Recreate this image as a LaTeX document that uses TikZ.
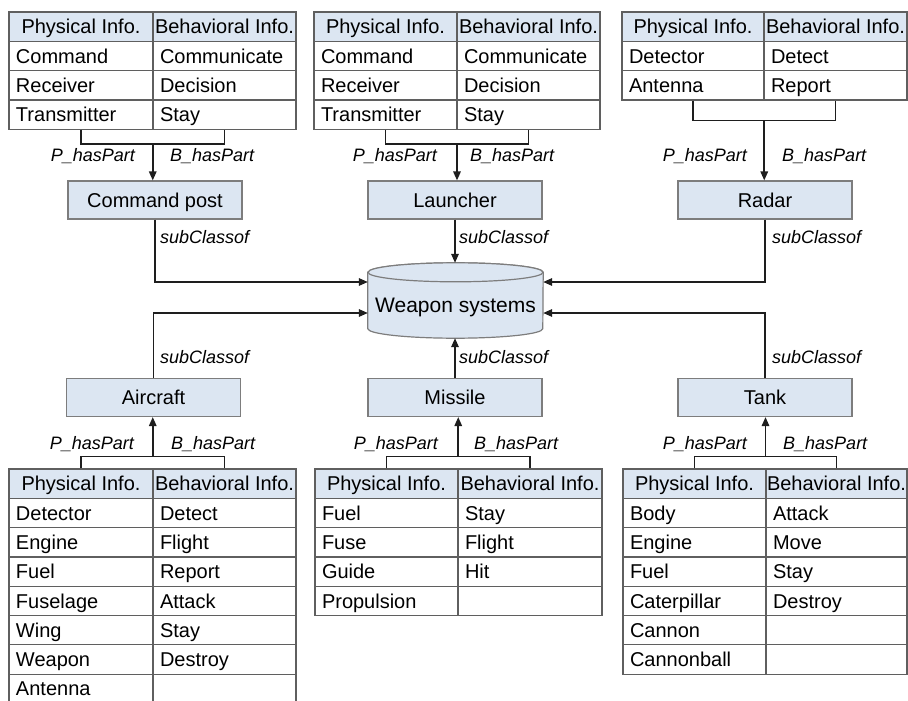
\documentclass[tikz,border=0pt]{standalone}
\usepackage{fontspec}
\setmainfont{Liberation Sans}
\usetikzlibrary{arrows.meta,calc,backgrounds}

\definecolor{hdrblue}{RGB}{220,230,242}
\definecolor{boxblue}{RGB}{220,230,242}
\definecolor{gridgray}{RGB}{95,95,95}
\definecolor{boxgray}{RGB}{125,125,125}
\definecolor{wire}{RGB}{30,30,30}

\newcommand{\rowh}{29.3}

% #1 name, #2 left x, #3 top y, #4 first column width, #5 second column width, #6 rows
\newcommand{\infotable}[6]{%
  \pgfmathsetmacro{\twa}{#4-14}%
  \pgfmathsetmacro{\twb}{#5-14}%
  \node[hdr, minimum width=#4pt] (#1-0-1) at ({#2+#4/2},{#3+\rowh/2}) {Physical Info.};
  \node[hdr, minimum width=#5pt] (#1-0-2) at ({#2+#4+#5/2},{#3+\rowh/2}) {Behavioral Info.};
  \foreach \p/\b [count=\r] in {#6} {
    \node[cell, minimum width=#4pt, text width=\twa pt] (#1-\r-1)
      at ({#2+#4/2},{#3+\rowh*\r+\rowh/2}) {\p};
    \node[cell, minimum width=#5pt, text width=\twb pt] (#1-\r-2)
      at ({#2+#4+#5/2},{#3+\rowh*\r+\rowh/2}) {\b};
  }%
}

\tikzset{
  txt/.style={font=\fontsize{20}{24}\selectfont, text height=14.3pt, text depth=0pt},
  hdr/.style={txt, draw=gridgray, line width=1.2pt, fill=hdrblue,
    minimum height=\rowh pt, inner sep=0pt},
  cell/.style={txt, draw=gridgray, line width=1.2pt, fill=white,
    minimum height=\rowh pt, inner xsep=7pt, inner ysep=0pt, align=left},
  classbox/.style={txt, draw=boxgray, line width=1.2pt, fill=boxblue,
    minimum width=174pt, minimum height=38pt, inner sep=0pt},
  conn/.style={draw=wire, line width=1.6pt},
  arr/.style={conn, -{Triangle[length=9pt,width=7.5pt]}},
  lbl/.style={font=\itshape\fontsize{18}{22}\selectfont, inner sep=0pt,
    text height=12.9pt, text depth=0pt},
}

\begin{document}
\begin{tikzpicture}[x=1pt, y=-1pt]
  \begin{pgfonlayer}{background}
    \fill[white] (0,0) rectangle (908,701);
  \end{pgfonlayer}
  \useasboundingbox (0,0) rectangle (908,701);

  % part tables
  \infotable{T1}{9}{12}{144}{143}{Command/Communicate, Receiver/Decision, Transmitter/Stay}
  \infotable{T2}{314}{12}{143}{143}{Command/Communicate, Receiver/Decision, Transmitter/Stay}
  \infotable{T3}{622}{12}{142}{143}{Detector/Detect, Antenna/Report}
  \infotable{B1}{9}{469}{144}{143}{Detector/Detect, Engine/Flight, Fuel/Report, Fuselage/Attack, Wing/Stay, Weapon/Destroy, Antenna/{}}
  \infotable{B2}{315}{469}{143}{144}{Fuel/Stay, Fuse/Flight, Guide/Hit, Propulsion/{}}
  \infotable{B3}{623}{469}{143}{141}{Body/Attack, Engine/Move, Fuel/Stay, Caterpillar/Destroy, Cannon/{}, Cannonball/{}}

  % classes
  \node[classbox] (cp) at (155,200) {Command post};
  \node[classbox] (ln) at (455,200) {Launcher};
  \node[classbox] (rd) at (765,200) {Radar};
  \node[classbox] (ac) at (153.5,397.5) {Aircraft};
  \node[classbox] (ms) at (455,397.5) {Missile};
  \node[classbox] (tk) at (765,397.5) {Tank};

  % root class drawn as a cylinder
  \node[font=\fontsize{21}{25}\selectfont, text height=30pt, text depth=6pt,
    minimum width=175pt, minimum height=75pt, inner sep=0pt]
    (ws) at (455.5,300.5) {Weapon systems};
  \begin{pgfonlayer}{background}
    \draw[draw=boxgray, line width=1.2pt, fill=boxblue]
      ([yshift=-9.5pt]ws.north west) -- ([yshift=9.5pt]ws.south west)
      arc[start angle=180, end angle=360, x radius=87.5pt, y radius=9.5pt]
      -- ([yshift=-9.5pt]ws.north east)
      arc[start angle=0, end angle=180, x radius=87.5pt, y radius=9.5pt] -- cycle;
    \draw[draw=boxgray, line width=1.2pt, fill=boxblue]
      ([yshift=-9.5pt]ws.north) ellipse[x radius=87.5pt, y radius=9.5pt];
  \end{pgfonlayer}

  % hasPart brackets, upper row
  \coordinate (j1) at ($(T1-3-1.south)!0.5!(T1-3-2.south)+(0,14)$);
  \draw[conn] (T1-3-1.south) |- (j1) -| (T1-3-2.south);
  \draw[arr] (j1) -- (j1 |- cp.north);
  \coordinate (j2) at ($(T2-3-1.south)!0.5!(T2-3-2.south)+(0,14)$);
  \draw[conn] (T2-3-1.south) |- (j2) -| (T2-3-2.south);
  \draw[arr] (j2) -- (j2 |- ln.north);
  \coordinate (j3) at ($(T3-2-1.south)!0.5!(T3-2-2.south)+(0,20)$);
  \draw[conn] (T3-2-1.south) |- (j3) -| (T3-2-2.south);
  \draw[arr] (j3) -- (j3 |- rd.north);

  % hasPart brackets, lower row
  \coordinate (j4) at ($(B1-0-1.north)!0.5!(B1-0-2.north)+(0,-12)$);
  \draw[conn] (B1-0-1.north) |- (j4) -| (B1-0-2.north);
  \draw[arr] (j4) -- (j4 |- ac.south);
  \coordinate (j5) at ($(B2-0-1.north)!0.5!(B2-0-2.north)+(0,-12)$);
  \draw[conn] (B2-0-1.north) |- (j5) -| (B2-0-2.north);
  \draw[arr] (j5) -- (j5 |- ms.south);
  \coordinate (j6) at ($(B3-0-1.north)!0.5!(B3-0-2.north)+(0,-12)$);
  \draw[conn] (B3-0-1.north) |- (j6) -| (B3-0-2.north);
  \draw[arr] (j6) -- (j6 |- tk.south);

  % hasPart labels
  \node[lbl, anchor=east] (p1) at (135,155) {P\_hasPart};
  \node[lbl, anchor=west] (b1) at (170,155) {B\_hasPart};
  \node[lbl, anchor=east] (p2) at (437,155) {P\_hasPart};
  \node[lbl, anchor=west] (b2) at (470,155) {B\_hasPart};
  \node[lbl, anchor=east] (p3) at (747,155) {P\_hasPart};
  \node[lbl, anchor=west] (b3) at (782,155) {B\_hasPart};
  \node[lbl, anchor=east] (p4) at (134,443) {P\_hasPart};
  \node[lbl, anchor=west] (b4) at (171,443) {B\_hasPart};
  \node[lbl, anchor=east] (p5) at (438,443) {P\_hasPart};
  \node[lbl, anchor=west] (b5) at (474,443) {B\_hasPart};
  \node[lbl, anchor=east] (p6) at (747,443) {P\_hasPart};
  \node[lbl, anchor=west] (b6) at (783,443) {B\_hasPart};

  % subClassof links to the root class
  \draw[arr] (cp.south) |- ([yshift=18.5pt]ws.west);
  \draw[arr] (ln.south) -- (ln.south |- ws.north);
  \draw[arr] (rd.south) |- ([yshift=18.5pt]ws.east);
  \draw[arr] (ac.north) |- ([yshift=-12.5pt]ws.west);
  \draw[arr] (ms.north) -- (ms.north |- ws.south);
  \draw[arr] (tk.north) |- ([yshift=-12.5pt]ws.east);

  \node[lbl, anchor=west] (s1) at (160,237) {subClassof};
  \node[lbl, anchor=west] (s2) at (459,237) {subClassof};
  \node[lbl, anchor=west] (s3) at (772,237) {subClassof};
  \node[lbl, anchor=west] (s4) at (160,357) {subClassof};
  \node[lbl, anchor=west] (s5) at (459,357) {subClassof};
  \node[lbl, anchor=west] (s6) at (772,357) {subClassof};
\end{tikzpicture}
\end{document}
